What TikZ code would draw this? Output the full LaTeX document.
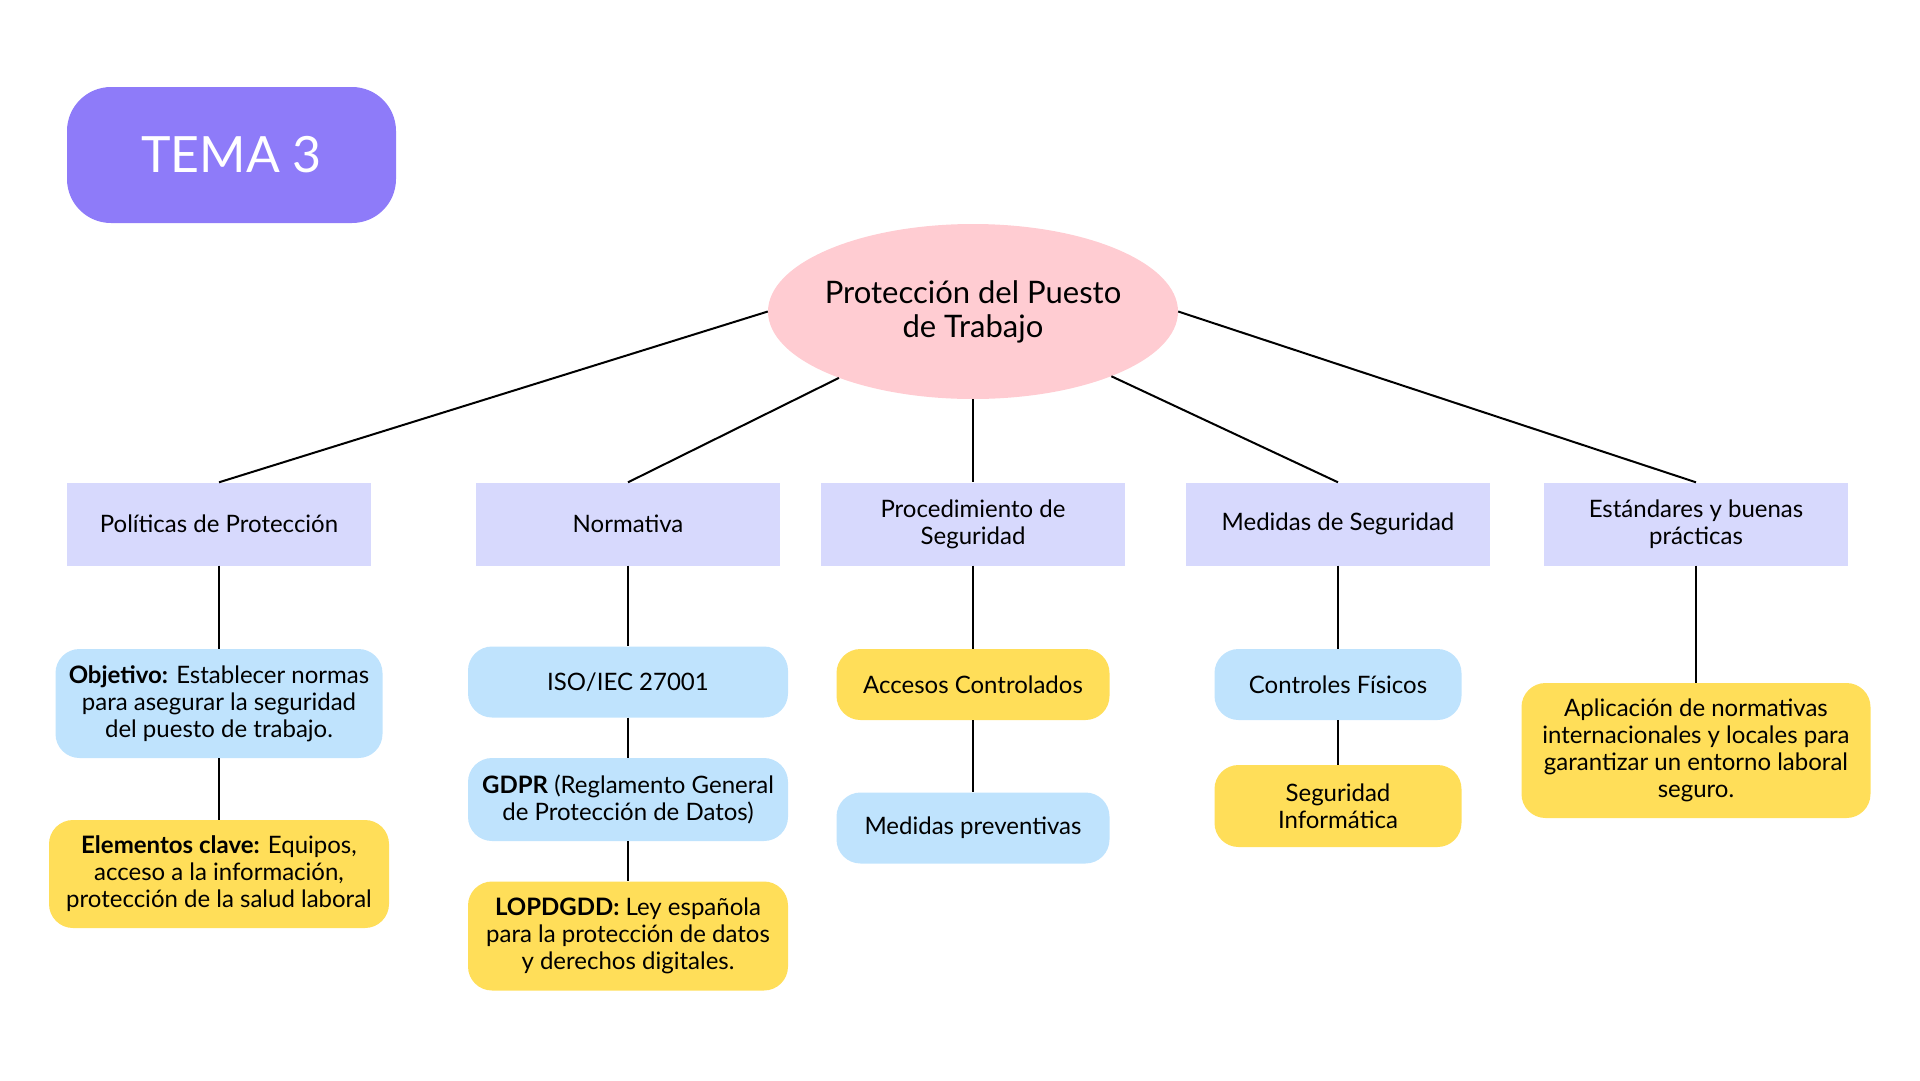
\documentclass[tikz,border=0pt]{standalone}
\usepackage{fontspec}
\setmainfont{Lato}
\usepackage{tikz}
\usetikzlibrary{shapes.geometric}
\definecolor{temapurple}{HTML}{8E7BF9}
\definecolor{mainpink}{HTML}{FFCCD2}
\definecolor{catlav}{HTML}{D7D9FD}
\definecolor{itemblue}{HTML}{BFE3FD}
\definecolor{itemyellow}{HTML}{FFDE59}
\tikzstyle{line} = [line width=2pt, black]
\tikzstyle{tema} = [rectangle, rounded corners=44pt, fill=temapurple, text=white, minimum width=329pt, minimum height=136pt, font=\fontsize{50}{60}\selectfont]
\tikzstyle{main} = [ellipse, fill=mainpink, inner xsep=-5pt, minimum width=410pt, minimum height=175pt, align=center, font=\fontsize{31}{34}\selectfont]
\tikzstyle{cat} = [rectangle, fill=catlav, minimum width=304pt, minimum height=83pt, align=center, font=\fontsize{24}{27}\selectfont]
\tikzstyle{item} = [rectangle, rounded corners=24pt, minimum height=71pt, align=center, font=\fontsize{24}{27}\selectfont]
\tikzstyle{blueitem} = [item, fill=itemblue]
\tikzstyle{yellowitem} = [item, fill=itemyellow]

\begin{document}
\begin{tikzpicture}[x=1pt, y=-1pt]
    \useasboundingbox (0,0) rectangle (1920,1080);
    \node[tema] (tema) at (231.5,155) {TEMA 3};
    \node[main] (main) at (973,311.5) {Protección del Puesto\\de Trabajo};

    % categorias
    \node[cat] (pol) at (219,524) {Políticas de Protección};
    \node[cat] (norm) at (628,524) {Normativa};
    \node[cat] (proc) at (973,524) {Procedimiento de\\Seguridad};
    \node[cat] (med) at (1338,524) {Medidas de Seguridad};
    \node[cat] (est) at (1696,524) {Estándares y buenas\\prácticas};

    % politicas
    \node[blueitem, minimum width=327pt, minimum height=109pt] (obj) at (219,703.5) {\textbf{Objetivo:} Establecer normas\\para asegurar la seguridad\\del puesto de trabajo.};
    \node[yellowitem, minimum width=340pt, minimum height=108pt] (elem) at (219,874) {\textbf{Elementos clave:} Equipos,\\acceso a la información,\\protección de la salud laboral};

    % normativa
    \node[blueitem, minimum width=320pt] (iso) at (628,682) {ISO/IEC 27001};
    \node[blueitem, minimum width=320pt, minimum height=83pt] (gdpr) at (628,799.5) {\textbf{GDPR} (Reglamento General\\de Protección de Datos)};
    \node[yellowitem, minimum width=320pt, minimum height=109pt] (lopd) at (628,936) {\textbf{LOPDGDD:} Ley española\\para la protección de datos\\y derechos digitales.};

    % procedimiento
    \node[yellowitem, minimum width=273pt] (acc) at (973,684.5) {Accesos Controlados};
    \node[blueitem, minimum width=273pt] (prev) at (973,828) {Medidas preventivas};

    % medidas
    \node[blueitem, minimum width=247pt] (fis) at (1338,684.5) {Controles Físicos};
    \node[yellowitem, minimum width=247pt, minimum height=82pt] (inf) at (1338,806) {Seguridad\\Informática};

    % estandares
    \node[yellowitem, minimum width=349pt, minimum height=135pt] (apl) at (1696,750.5) {Aplicación de normativas\\internacionales y locales para\\garantizar un entorno laboral\\seguro.};

    \draw[line] (main.west) -- (pol.north);
    \draw[line] (main) -- (norm.north);
    \draw[line] (main.south) -- (proc.north);
    \draw[line] (main) -- (med.north);
    \draw[line] (main.east) -- (est.north);

    \draw[line] (pol) -- (obj);
    \draw[line] (obj) -- (elem);
    \draw[line] (norm) -- (iso);
    \draw[line] (iso) -- (gdpr);
    \draw[line] (gdpr) -- (lopd);
    \draw[line] (proc) -- (acc);
    \draw[line] (acc) -- (prev);
    \draw[line] (med) -- (fis);
    \draw[line] (fis) -- (inf);
    \draw[line] (est) -- (apl);
\end{tikzpicture}
\end{document}
